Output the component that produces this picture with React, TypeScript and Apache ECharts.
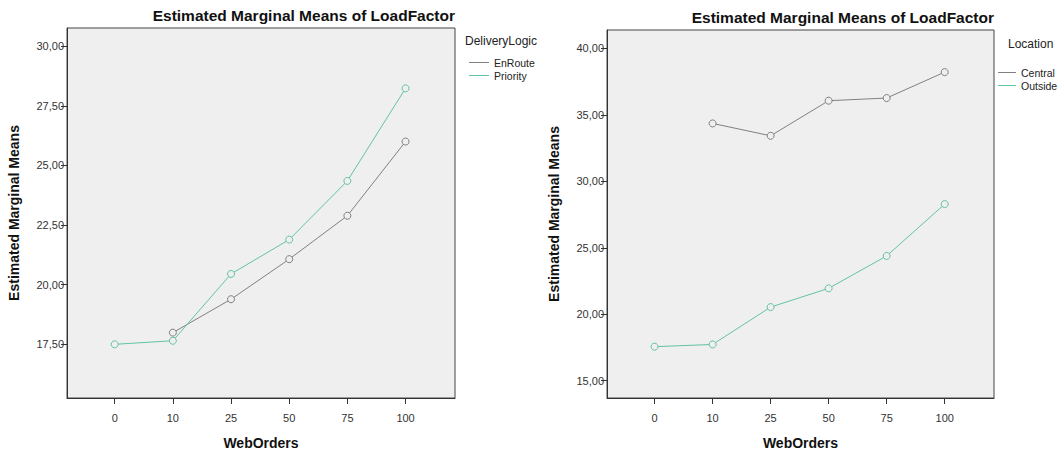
import React, { useEffect, useRef } from "react";
import * as echarts from "echarts";

const webOrders = ["0", "10", "25", "50", "75", "100"];
const enRoute: (number | null)[] = [null, 17.99, 19.39, 21.07, 22.89, 26.0];
const priority: (number | null)[] = [17.5, 17.65, 20.45, 21.89, 24.35, 28.23];
const central: (number | null)[] = [null, 34.36, 33.43, 36.07, 36.27, 38.22];
const outside: (number | null)[] = [17.56, 17.73, 20.54, 21.95, 24.39, 28.29];
const leftYTicks = [17.5, 20, 22.5, 25, 27.5, 30];
const rightYTicks = [15, 20, 25, 30, 35, 40];

const FONT = "Liberation Sans, Arial, sans-serif";
const GRAY = "#808080";
const TEAL = "#62c2a6";
const PLOT_BG = "#efefef";

const toPairs = (arr: (number | null)[]) =>
  arr.map((v, i) => (v == null ? null : [i, v])).filter((p) => p !== null) as number[][];

const fmtY = (v: number) => v.toFixed(2).replace(".", ",");

function xAxis(gridIndex: number) {
  const idx = webOrders.map((_, i) => i);
  return {
    type: "value",
    gridIndex,
    min: -0.82,
    max: 5.85,
    name: "WebOrders",
    nameLocation: "middle",
    nameGap: 38,
    nameTextStyle: { fontFamily: FONT, fontWeight: "bold", fontSize: 14, color: "#111" },
    axisLine: { show: true, onZero: false, lineStyle: { color: "#333", width: 1 } },
    axisTick: { show: true, length: 6, customValues: idx, lineStyle: { color: "#333" } },
    axisLabel: {
      customValues: idx,
      formatter: (v: number) => webOrders[Math.round(v)] ?? "",
      fontFamily: FONT,
      fontSize: 11,
      color: "#333",
      margin: 14,
    },
    splitLine: { show: false },
  };
}

function yAxis(gridIndex: number, min: number, max: number, ticks: number[]) {
  return {
    type: "value",
    gridIndex,
    min,
    max,
    name: "Estimated Marginal Means",
    nameLocation: "middle",
    nameGap: 46,
    nameRotate: 90,
    nameTextStyle: { fontFamily: FONT, fontWeight: "bold", fontSize: 14, color: "#111" },
    axisLine: { show: true, onZero: false, lineStyle: { color: "#333", width: 1 } },
    axisTick: { show: true, length: 6, customValues: ticks, lineStyle: { color: "#333" } },
    axisLabel: {
      customValues: ticks,
      formatter: (v: number) => fmtY(v),
      fontFamily: FONT,
      fontSize: 11,
      color: "#333",
      margin: 3,
    },
    splitLine: { show: false },
  };
}

function lineSeries(name: string, data: (number | null)[], color: string, idx: number) {
  return {
    name,
    type: "line",
    xAxisIndex: idx,
    yAxisIndex: idx,
    data: toPairs(data),
    symbol: "circle",
    symbolSize: 7,
    lineStyle: { color, width: 1 },
    itemStyle: { color: PLOT_BG, borderColor: color, borderWidth: 1 },
    emphasis: { disabled: true },
  };
}

export default function App() {
  const ref = useRef<HTMLDivElement>(null);
  useEffect(() => {
    if (!ref.current) return;
    const chart = echarts.init(ref.current, undefined, { renderer: "svg" });
    const legendText = { fontFamily: FONT, fontSize: 10.5, color: "#222", lineHeight: 13 };
    const titleStyle = { fontFamily: FONT, fontWeight: "bold", fontSize: 15.5, color: "#111" };
    const legendItem = (name: string, color: string) => ({
      name,
      itemStyle: { color, borderWidth: 0 },
    });
    chart.setOption({
      animation: false,
      backgroundColor: "#ffffff",
      title: [
        {
          text: "Estimated Marginal Means of LoadFactor",
          right: 605,
          top: 7,
          padding: 0,
          textStyle: titleStyle,
        },
        {
          text: "Estimated Marginal Means of LoadFactor",
          right: 66,
          top: 9,
          padding: 0,
          textStyle: titleStyle,
        },
        {
          text: "DeliveryLogic",
          left: 465,
          top: 35,
          padding: 0,
          textStyle: { fontFamily: FONT, fontWeight: "normal", fontSize: 12, color: "#222" },
        },
        {
          text: "Location",
          left: 1008,
          top: 38,
          padding: 0,
          textStyle: { fontFamily: FONT, fontWeight: "normal", fontSize: 12, color: "#222" },
        },
      ],
      legend: [
        {
          data: [legendItem("EnRoute", GRAY), legendItem("Priority", TEAL)],
          orient: "vertical",
          left: 469,
          top: 56,
          padding: 0,
          itemGap: 0,
          icon: "rect",
          itemWidth: 20,
          itemHeight: 1,
          textStyle: legendText,
          selectedMode: false,
        },
        {
          data: [legendItem("Central", GRAY), legendItem("Outside", TEAL)],
          orient: "vertical",
          left: 998,
          top: 66,
          padding: 0,
          itemGap: 0,
          icon: "rect",
          itemWidth: 18,
          itemHeight: 1,
          textStyle: legendText,
          selectedMode: false,
        },
      ],
      grid: [
        {
          left: 67,
          top: 28,
          width: 388,
          height: 378,
          show: true,
          backgroundColor: PLOT_BG,
          borderColor: "#444",
          borderWidth: 1,
        },
        {
          left: 607,
          top: 30,
          width: 387,
          height: 378,
          show: true,
          backgroundColor: PLOT_BG,
          borderColor: "#444",
          borderWidth: 1,
        },
      ],
      xAxis: [xAxis(0), xAxis(1)],
      yAxis: [yAxis(0, 15.25, 30.76, leftYTicks), yAxis(1, 13.7, 41.39, rightYTicks)],
      series: [
        lineSeries("EnRoute", enRoute, GRAY, 0),
        lineSeries("Priority", priority, TEAL, 0),
        lineSeries("Central", central, GRAY, 1),
        lineSeries("Outside", outside, TEAL, 1),
      ],
    });
    return () => chart.dispose();
  }, []);
  return (
    <div
      ref={ref}
      style={{ position: "fixed", left: 0, top: 0, width: 1060, height: 455 }}
    />
  );
}
